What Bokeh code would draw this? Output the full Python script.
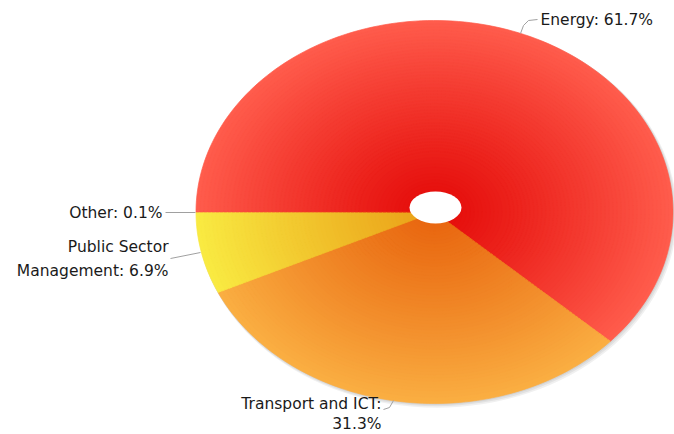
import numpy as np
from bokeh.plotting import figure
from bokeh.models import Range1d, ColumnDataSource
from bokeh.core.properties import value
from bokeh.embed import file_html
from bokeh.resources import INLINE

# ---- data ----
categories = ["Energy", "Transport and ICT", "Public Sector Management", "Other"]
shares = [61.7, 31.3, 6.9, 0.1]
label_lines = [["Energy: 61.7%"],
               ["Transport and ICT:", "31.3%"],
               ["Public Sector", "Management: 6.9%"],
               ["Other: 0.1%"]]

# ---- styles ----
center_cols = [(228, 10, 8), (232, 100, 14), (234, 160, 24), (228, 10, 8)]
edge_cols = [(255, 92, 76), (250, 174, 66), (249, 234, 66), (255, 92, 76)]

# ---- layout ----
W, H = 674, 434
CX, CY = 434, 211.5
RX, RY = 238.5, 191.5


def dx(px):
    return (px - CX) / RX


def dy(py):
    return (CY - py) / RY


p = figure(width=W, height=H, output_backend="svg", toolbar_location=None,
           x_range=Range1d(-CX / RX, (W - CX) / RX),
           y_range=Range1d(-(H - CY) / RY, CY / RY),
           min_border=0, background_fill_color="white")
p.axis.visible = False
p.grid.visible = False
p.outline_line_color = None

# soft shadow
for k in range(1, 4):
    p.ellipse(x=[k * 0.8 / RX], y=[-k * 0.9 / RY], width=2 + k * 1.0 / RX,
              height=2 + k * 1.0 / RY, fill_color="black", fill_alpha=0.06,
              line_color=None)

# slices with radial gradient (nested wedges)
fr = np.array(shares, dtype=float) / sum(shares)
start = -180 + 360 * (1 - fr[-1])
edges = start - 360 * np.concatenate([[0], np.cumsum(fr)])

N = 60
xs, ys, cols = [], [], []
for k in range(N):
    r = 1 - k / N
    f = r ** 1.15
    for i in range(len(shares)):
        a0, a1 = edges[i], edges[i + 1]
        n = max(3, int(abs(a0 - a1) / 1.5) + 2)
        t = np.radians(np.linspace(a0, a1, n))
        xs.append(np.concatenate([[0], r * np.cos(t)]))
        ys.append(np.concatenate([[0], r * np.sin(t)]))
        c0, c1 = center_cols[i], edge_cols[i]
        c = tuple(int(round(c0[j] + (c1[j] - c0[j]) * f)) for j in range(3))
        cols.append("#%02x%02x%02x" % c)

src = ColumnDataSource(dict(xs=xs, ys=ys, c=cols))
p.patches("xs", "ys", source=src, fill_color="c", line_color="c", line_width=0.7)

# centre hole
p.ellipse(x=[dx(435)], y=[dy(207)], width=52 / RX, height=32 / RY,
          fill_color="white", line_color=None)

# connectors
conn = [
    [(520, 33), (523, 25), (528, 20), (537, 19)],
    [(383, 409), (389, 407), (393, 400)],
    [(170, 258), (200, 252)],
    [(165, 212), (195, 212)],
]
for pts in conn:
    p.line([dx(a) for a, b in pts], [dy(b) for a, b in pts],
           line_color="#a0a0a0", line_width=1)

# labels
lab_pos = [
    (540, [19], "left"),
    (381, [403, 423], "right"),
    (168, [246, 270], "right"),
    (162, [212], "right"),
]
for (x0, yl, al), lines in zip(lab_pos, label_lines):
    for yy, txt in zip(yl, lines):
        p.text(x=[dx(x0)], y=[dy(yy)], text=[txt], text_align=al,
               text_baseline="middle", text_font=value("DejaVu Sans"),
               text_font_size="15.5px", text_color="#1a1a1a")

open("out.html", "w").write(file_html(p, INLINE))
